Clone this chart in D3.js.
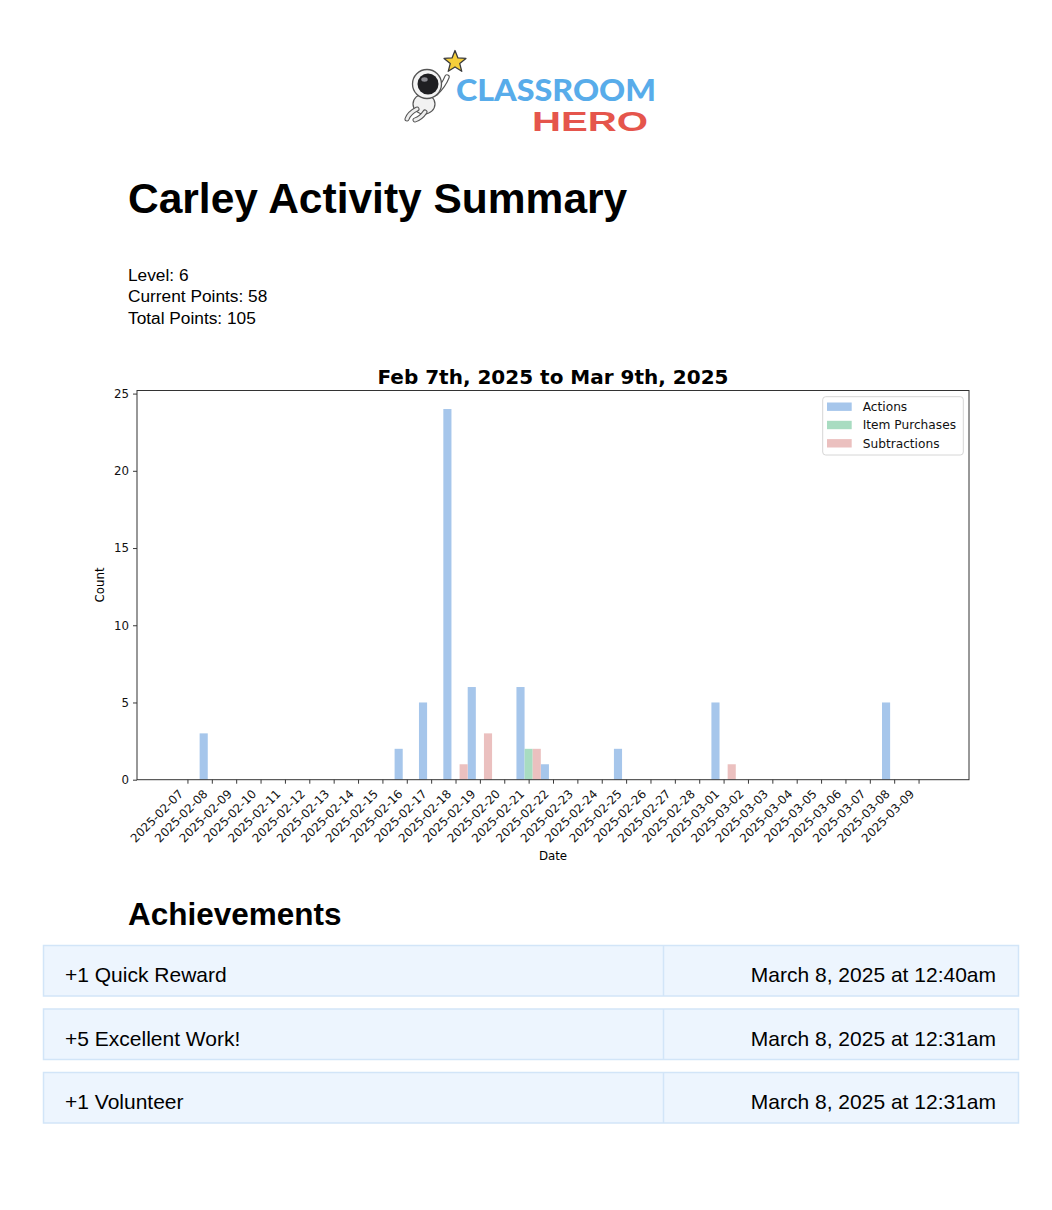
<!DOCTYPE html>
<html>
<head>
<meta charset="utf-8">
<script src="https://cdn.jsdelivr.net/npm/d3@7"></script>
<style>
  html, body { margin: 0; padding: 0; background: #fff; overflow: hidden; }
  svg { display: block; }
</style>
</head>
<body>
<svg id="page"></svg>
<script>
// Chart data
const dates = [
  "2025-02-07", "2025-02-08", "2025-02-09", "2025-02-10", "2025-02-11", "2025-02-12",
  "2025-02-13", "2025-02-14", "2025-02-15", "2025-02-16", "2025-02-17", "2025-02-18",
  "2025-02-19", "2025-02-20", "2025-02-21", "2025-02-22", "2025-02-23", "2025-02-24",
  "2025-02-25", "2025-02-26", "2025-02-27", "2025-02-28", "2025-03-01", "2025-03-02",
  "2025-03-03", "2025-03-04", "2025-03-05", "2025-03-06", "2025-03-07", "2025-03-08",
  "2025-03-09"
];
const actions       = [0, 3, 0, 0, 0, 0, 0, 0, 0, 2, 5, 24, 6, 0, 6, 1, 0, 0, 2, 0, 0, 0, 5, 0, 0, 0, 0, 0, 0, 5, 0];
const itemPurchases = [0, 0, 0, 0, 0, 0, 0, 0, 0, 0, 0, 0, 0, 0, 2, 0, 0, 0, 0, 0, 0, 0, 0, 0, 0, 0, 0, 0, 0, 0, 0];
const subtractions  = [0, 0, 0, 0, 0, 0, 0, 0, 0, 0, 0, 1, 3, 0, 2, 0, 0, 0, 0, 0, 0, 0, 1, 0, 0, 0, 0, 0, 0, 0, 0];
const seriesNames = ["Actions", "Item Purchases", "Subtractions"];
const seriesColors = ["#a6c6eb", "#a8dcc1", "#ebc0bf"];
const yTicks = [0, 5, 10, 15, 20, 25];

// Page text
const studentName = "Carley";
const stats = ["Level: 6", "Current Points: 58", "Total Points: 105"];
const achievementNames = ["+1 Quick Reward", "+5 Excellent Work!", "+1 Volunteer"];
const achievementTimes = ["March 8, 2025 at 12:40am", "March 8, 2025 at 12:31am", "March 8, 2025 at 12:31am"];

const W = 1052, H = 1210;
const sans = "'Liberation Sans', Arial, Helvetica, sans-serif";
const mpl = "'DejaVu Sans', sans-serif";

const svg = d3.select("#page").attr("width", W).attr("height", H);

// Logo
const logo = svg.append("g");
const starPts = d3.range(10).map(i => {
  const r = i % 2 === 0 ? 11.5 : 5;
  const a = -Math.PI / 2 + i * Math.PI / 5;
  return [455 + r * Math.cos(a), 62 + r * Math.sin(a)];
});
logo.append("path")
  .attr("d", d3.line()(starPts) + "Z")
  .attr("fill", "#f6cf3b")
  .attr("stroke", "#3b3b3b")
  .attr("stroke-width", 1.3)
  .attr("stroke-linejoin", "round");

// astronaut: arm, body, legs, helmet
const arm = "M436,93 Q444,85 447,77";
const legs = "M417,109 Q409,113 407,119 M425,112 Q421,118 415,120";
logo.append("path").attr("d", arm)
  .attr("fill", "none").attr("stroke", "#555").attr("stroke-width", 5.5).attr("stroke-linecap", "round");
logo.append("path").attr("d", arm)
  .attr("fill", "none").attr("stroke", "#fff").attr("stroke-width", 3.3).attr("stroke-linecap", "round");
logo.append("ellipse")
  .attr("cx", 424).attr("cy", 104).attr("rx", 11).attr("ry", 10)
  .attr("fill", "#f2f2f2").attr("stroke", "#555").attr("stroke-width", 1.2);
logo.append("path").attr("d", legs)
  .attr("fill", "none").attr("stroke", "#555").attr("stroke-width", 5).attr("stroke-linecap", "round");
logo.append("path").attr("d", legs)
  .attr("fill", "none").attr("stroke", "#eee").attr("stroke-width", 3).attr("stroke-linecap", "round");
logo.append("circle")
  .attr("cx", 427).attr("cy", 84).attr("r", 14.5)
  .attr("fill", "#f4f4f4").attr("stroke", "#555").attr("stroke-width", 1.3);
logo.append("circle")
  .attr("cx", 428).attr("cy", 84).attr("r", 10.5)
  .attr("fill", "#1f1f22");
logo.append("ellipse")
  .attr("cx", 424.5).attr("cy", 79.5).attr("rx", 3.2).attr("ry", 2.2)
  .attr("fill", "#8a8a90");

logo.append("text")
  .attr("x", 456).attr("y", 100.5)
  .attr("font-family", "Lato, Roboto, " + sans)
  .attr("font-weight", 900)
  .attr("font-size", 31)
  .attr("textLength", 200)
  .attr("lengthAdjust", "spacingAndGlyphs")
  .attr("fill", "#58acea")
  .text("CLASSROOM");
logo.append("text")
  .attr("x", 532).attr("y", 131)
  .attr("font-family", sans)
  .attr("font-weight", "bold")
  .attr("font-size", 27)
  .attr("textLength", 116)
  .attr("lengthAdjust", "spacingAndGlyphs")
  .attr("fill", "#e5554c")
  .text("HERO");

// Heading and stats
svg.append("text")
  .attr("x", 128).attr("y", 213)
  .attr("font-family", sans).attr("font-weight", "bold").attr("font-size", 42.5)
  .text(studentName + " Activity Summary");

svg.append("g").selectAll("text")
  .data(stats)
  .join("text")
  .attr("x", 128)
  .attr("y", (d, i) => 281 + i * 21.3)
  .attr("font-family", sans).attr("font-size", 17.3)
  .text(d => d);

// Chart
const parse = d3.utcParse("%Y-%m-%d");
const days = dates.map(parse);
const plot = { left: 137, right: 969, top: 390.5, bottom: 779.7 };
const pad = 2.07 * 864e5;

const x = d3.scaleUtc()
  .domain([+days[0] - pad, +days[days.length - 1] + pad])
  .range([plot.left, plot.right]);
const y = d3.scaleLinear()
  .domain([0, 25.2])
  .range([plot.bottom, plot.top]);

const dayW = x(d3.utcDay.offset(days[0], 1)) - x(days[0]);
const barW = dayW / 3;

const series = [actions, itemPurchases, subtractions].map((vals, s) => ({
  name: seriesNames[s],
  color: seriesColors[s],
  values: vals.map((v, i) => ({ date: days[i], value: v, s }))
}));

const chart = svg.append("g");

chart.selectAll("g.series")
  .data(series)
  .join("g")
  .attr("class", "series")
  .attr("fill", d => d.color)
  .selectAll("rect")
  .data(d => d.values.filter(v => v.value > 0))
  .join("rect")
  .attr("x", d => x(d.date) - dayW / 2 + d.s * barW)
  .attr("width", barW)
  .attr("y", d => y(d.value))
  .attr("height", d => y(0) - y(d.value));

// axes
const xAxis = d3.axisBottom(x)
  .tickValues(days)
  .tickFormat(d3.utcFormat("%Y-%m-%d"))
  .tickSize(4)
  .tickSizeOuter(0);

const gx = chart.append("g")
  .attr("transform", `translate(0,${plot.bottom})`)
  .call(xAxis);
gx.select(".domain").remove();
gx.selectAll(".tick line").attr("stroke", "#222").attr("stroke-width", 0.9);
gx.selectAll(".tick text")
  .attr("font-family", mpl)
  .attr("font-size", 11.8)
  .attr("fill", "#111")
  .attr("text-anchor", "end")
  .attr("dy", null)
  .attr("y", null)
  .attr("transform", "translate(-4,15) rotate(-45)");

const yAxis = d3.axisLeft(y)
  .tickValues(yTicks)
  .tickSize(4)
  .tickSizeOuter(0);

const gy = chart.append("g")
  .attr("transform", `translate(${plot.left},0)`)
  .call(yAxis);
gy.select(".domain").remove();
gy.selectAll(".tick line").attr("stroke", "#222").attr("stroke-width", 0.9);
gy.selectAll(".tick text")
  .attr("font-family", mpl)
  .attr("font-size", 11.8)
  .attr("fill", "#111")
  .attr("x", -8);

// frame
chart.append("rect")
  .attr("x", plot.left).attr("y", plot.top)
  .attr("width", plot.right - plot.left)
  .attr("height", plot.bottom - plot.top)
  .attr("fill", "none")
  .attr("stroke", "#333")
  .attr("stroke-width", 1);

// title and labels
chart.append("text")
  .attr("x", (plot.left + plot.right) / 2).attr("y", 384)
  .attr("text-anchor", "middle")
  .attr("font-family", mpl).attr("font-weight", "bold").attr("font-size", 20)
  .text("Feb 7th, 2025 to Mar 9th, 2025");

chart.append("text")
  .attr("x", (plot.left + plot.right) / 2).attr("y", 860)
  .attr("text-anchor", "middle")
  .attr("font-family", mpl).attr("font-size", 11.8)
  .text("Date");

chart.append("text")
  .attr("transform", "translate(104,585) rotate(-90)")
  .attr("text-anchor", "middle")
  .attr("font-family", mpl).attr("font-size", 11.8)
  .text("Count");

// legend
const legend = chart.append("g");
legend.append("rect")
  .attr("x", 822.7).attr("y", 396.7)
  .attr("width", 140.6).attr("height", 58.3)
  .attr("rx", 3)
  .attr("fill", "#fff").attr("fill-opacity", 0.8)
  .attr("stroke", "#d6d6d6");
const items = legend.selectAll("g.item")
  .data(series)
  .join("g")
  .attr("class", "item")
  .attr("transform", (d, i) => `translate(827,${406.7 + i * 18.3})`);
items.append("rect")
  .attr("x", 0).attr("y", -4.2)
  .attr("width", 24.7).attr("height", 8.4)
  .attr("fill", d => d.color);
items.append("text")
  .attr("x", 35.7).attr("dy", "0.36em")
  .attr("font-family", mpl).attr("font-size", 12.2)
  .attr("fill", "#111")
  .text(d => d.name);

// Achievements
svg.append("text")
  .attr("x", 128).attr("y", 925)
  .attr("font-family", sans).attr("font-weight", "bold").attr("font-size", 31.5)
  .text("Achievements");

const rows = svg.append("g").selectAll("g")
  .data(achievementNames.map((n, i) => ({ name: n, time: achievementTimes[i] })))
  .join("g")
  .attr("transform", (d, i) => `translate(0,${945.5 + i * 63.5})`);

rows.append("rect")
  .attr("x", 43.5).attr("y", 0)
  .attr("width", 975).attr("height", 50.5)
  .attr("fill", "#edf5fe")
  .attr("stroke", "#d2e5f8")
  .attr("stroke-width", 1.5);
rows.append("line")
  .attr("x1", 663.5).attr("x2", 663.5)
  .attr("y1", 0).attr("y2", 50.5)
  .attr("stroke", "#d2e5f8")
  .attr("stroke-width", 1.5);
rows.append("text")
  .attr("x", 65).attr("y", 36.5)
  .attr("font-family", sans).attr("font-size", 21)
  .text(d => d.name);
rows.append("text")
  .attr("x", 996).attr("y", 36.5)
  .attr("text-anchor", "end")
  .attr("font-family", sans).attr("font-size", 21)
  .text(d => d.time);
</script>
</body>
</html>
